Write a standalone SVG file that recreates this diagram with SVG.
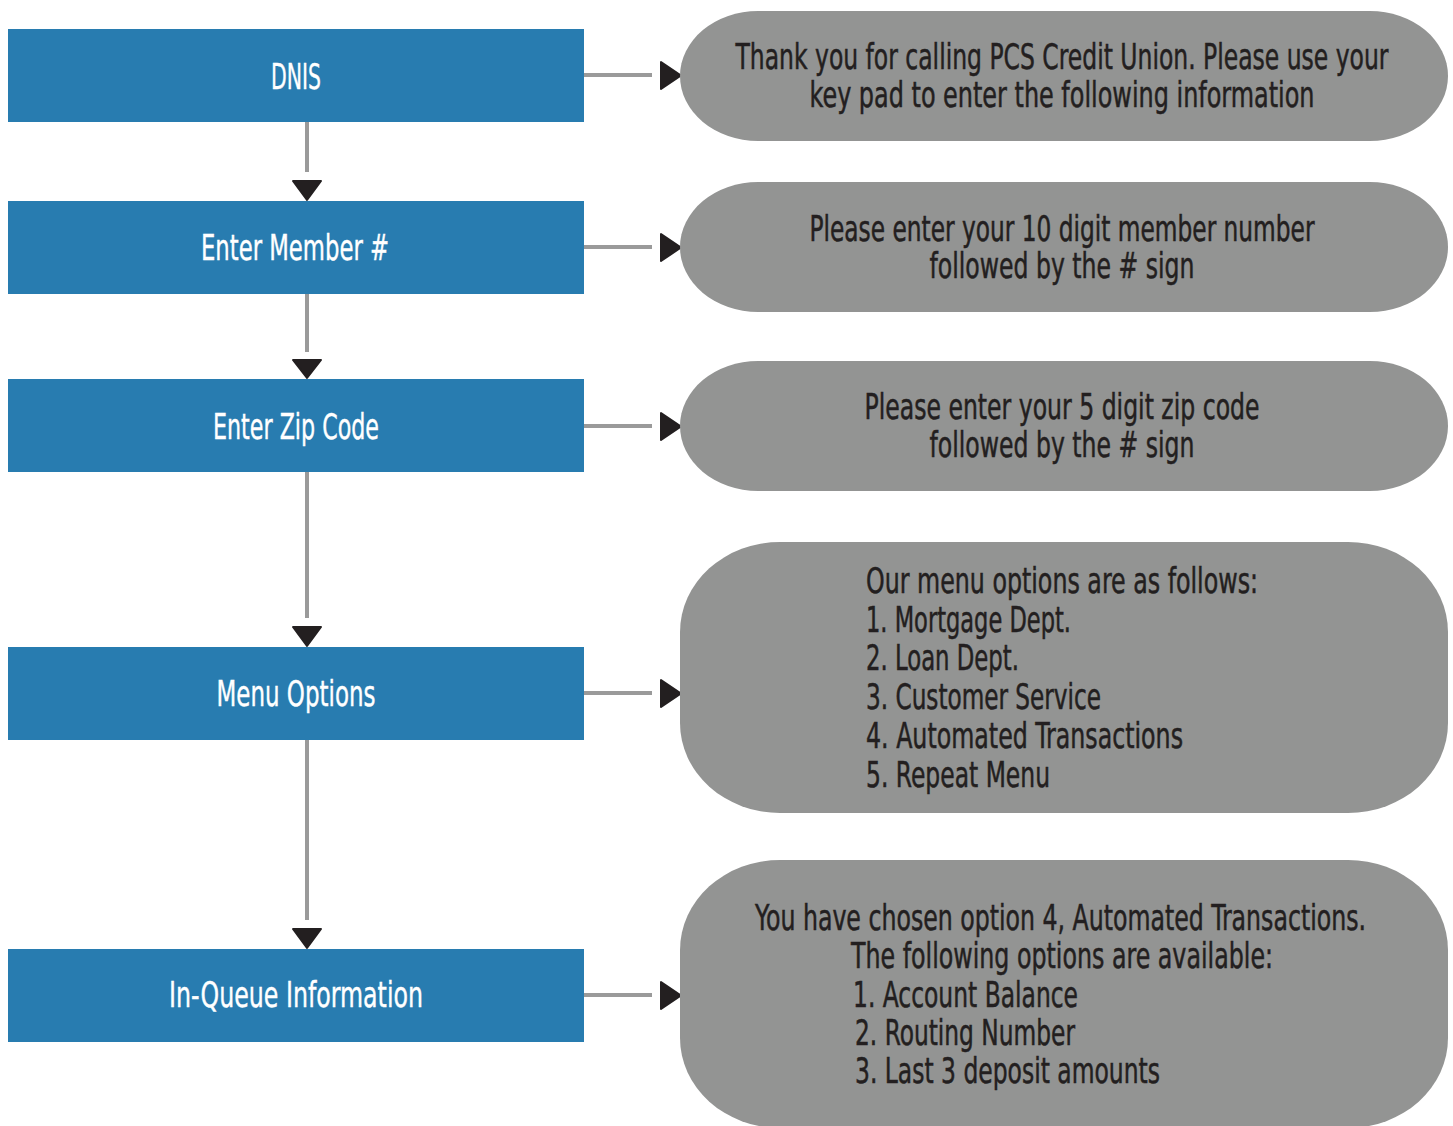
<svg xmlns="http://www.w3.org/2000/svg" width="1453" height="1126" viewBox="0 0 1453 1126">
<style>
.step{fill:#287CB0}
.resp{fill:#939493}
.st{font-family:"Liberation Sans Narrow","DejaVu Sans Condensed","Liberation Sans",sans-serif;font-size:36px;fill:#FFFFFF;stroke:#FFFFFF;stroke-width:0.4}
.rt{font-family:"Liberation Sans Narrow","DejaVu Sans Condensed","Liberation Sans",sans-serif;font-size:35px;fill:#231F20;stroke:#231F20;stroke-width:0.5}
.ln{stroke:#9A9A9A;stroke-width:4;fill:none}
.ah{fill:#231F20;stroke:#231F20;stroke-width:2;stroke-linejoin:round}
</style>
<rect width="1453" height="1126" fill="#FFFFFF"/>
<g id="connectors">
<line class="ln" x1="307" y1="122" x2="307" y2="172"/>
<polygon class="ah" points="293,181 321,181 307,200"/>
<line class="ln" x1="307" y1="294" x2="307" y2="352"/>
<polygon class="ah" points="293,360 321,360 307,378"/>
<line class="ln" x1="307" y1="472" x2="307" y2="618"/>
<polygon class="ah" points="293,627 321,627 307,646"/>
<line class="ln" x1="307" y1="740" x2="307" y2="920"/>
<polygon class="ah" points="293,929 321,929 307,948"/>
<line class="ln" x1="584" y1="75" x2="652" y2="75"/>
<polygon class="ah" points="661,62 661,89 681,75.5"/>
<line class="ln" x1="584" y1="247" x2="652" y2="247"/>
<polygon class="ah" points="661,234 661,261 681,247.5"/>
<line class="ln" x1="584" y1="426" x2="652" y2="426"/>
<polygon class="ah" points="661,413 661,440 681,426.5"/>
<line class="ln" x1="584" y1="693" x2="652" y2="693"/>
<polygon class="ah" points="661,680 661,707 681,693.5"/>
<line class="ln" x1="584" y1="995" x2="652" y2="995"/>
<polygon class="ah" points="661,982 661,1009 681,995.5"/>
</g>
<g id="dnis">
<rect class="step" x="8" y="29" width="576" height="93"/>
<text class="st" x="296" y="89" text-anchor="middle" textLength="50" lengthAdjust="spacingAndGlyphs">DNIS</text>
</g>
<g id="member">
<rect class="step" x="8" y="201" width="576" height="93"/>
<text class="st" x="295" y="260" text-anchor="middle" textLength="188" lengthAdjust="spacingAndGlyphs">Enter Member #</text>
</g>
<g id="zip">
<rect class="step" x="8" y="379" width="576" height="93"/>
<text class="st" x="296" y="439" text-anchor="middle" textLength="166" lengthAdjust="spacingAndGlyphs">Enter Zip Code</text>
</g>
<g id="menu">
<rect class="step" x="8" y="647" width="576" height="93"/>
<text class="st" x="296" y="706" text-anchor="middle" textLength="159" lengthAdjust="spacingAndGlyphs">Menu Options</text>
</g>
<g id="inqueue">
<rect class="step" x="8" y="949" width="576" height="93"/>
<text class="st" x="296" y="1007" text-anchor="middle" textLength="254" lengthAdjust="spacingAndGlyphs">In-Queue Information</text>
</g>
<g id="resp-dnis">
<rect class="resp" x="680" y="11" width="768" height="130" rx="78" ry="65"/>
<text class="rt" x="1062" y="69" text-anchor="middle" textLength="653" lengthAdjust="spacingAndGlyphs">Thank you for calling PCS Credit Union. Please use your</text>
<text class="rt" x="1062" y="107" text-anchor="middle" textLength="505" lengthAdjust="spacingAndGlyphs">key pad to enter the following information</text>
</g>
<g id="resp-member">
<rect class="resp" x="680" y="182" width="768" height="130" rx="78" ry="65"/>
<text class="rt" x="1062" y="241" text-anchor="middle" textLength="505" lengthAdjust="spacingAndGlyphs">Please enter your 10 digit member number</text>
<text class="rt" x="1062" y="278" text-anchor="middle" textLength="265" lengthAdjust="spacingAndGlyphs">followed by the # sign</text>
</g>
<g id="resp-zip">
<rect class="resp" x="680" y="361" width="768" height="130" rx="78" ry="65"/>
<text class="rt" x="1062" y="419" text-anchor="middle" textLength="395" lengthAdjust="spacingAndGlyphs">Please enter your 5 digit zip code</text>
<text class="rt" x="1062" y="457" text-anchor="middle" textLength="265" lengthAdjust="spacingAndGlyphs">followed by the # sign</text>
</g>
<g id="resp-menu">
<rect class="resp" x="680" y="542" width="768" height="271" rx="100" ry="90"/>
<text class="rt" x="866" y="593" textLength="392" lengthAdjust="spacingAndGlyphs">Our menu options are as follows:</text>
<text class="rt" x="866" y="632" textLength="205" lengthAdjust="spacingAndGlyphs">1. Mortgage Dept.</text>
<text class="rt" x="866" y="670" textLength="153" lengthAdjust="spacingAndGlyphs">2. Loan Dept.</text>
<text class="rt" x="866" y="709" textLength="235" lengthAdjust="spacingAndGlyphs">3. Customer Service</text>
<text class="rt" x="866" y="748" textLength="317" lengthAdjust="spacingAndGlyphs">4. Automated Transactions</text>
<text class="rt" x="866" y="787" textLength="184" lengthAdjust="spacingAndGlyphs">5. Repeat Menu</text>
</g>
<g id="resp-inqueue">
<rect class="resp" x="680" y="860" width="768" height="268" rx="100" ry="90"/>
<text class="rt" x="755" y="930" textLength="611" lengthAdjust="spacingAndGlyphs">You have chosen option 4, Automated Transactions.</text>
<text class="rt" x="851" y="968" textLength="422" lengthAdjust="spacingAndGlyphs">The following options are available:</text>
<text class="rt" x="853" y="1007" textLength="225" lengthAdjust="spacingAndGlyphs">1. Account Balance</text>
<text class="rt" x="855" y="1045" textLength="220" lengthAdjust="spacingAndGlyphs">2. Routing Number</text>
<text class="rt" x="855" y="1083" textLength="305" lengthAdjust="spacingAndGlyphs">3. Last 3 deposit amounts</text>
</g>
</svg>
